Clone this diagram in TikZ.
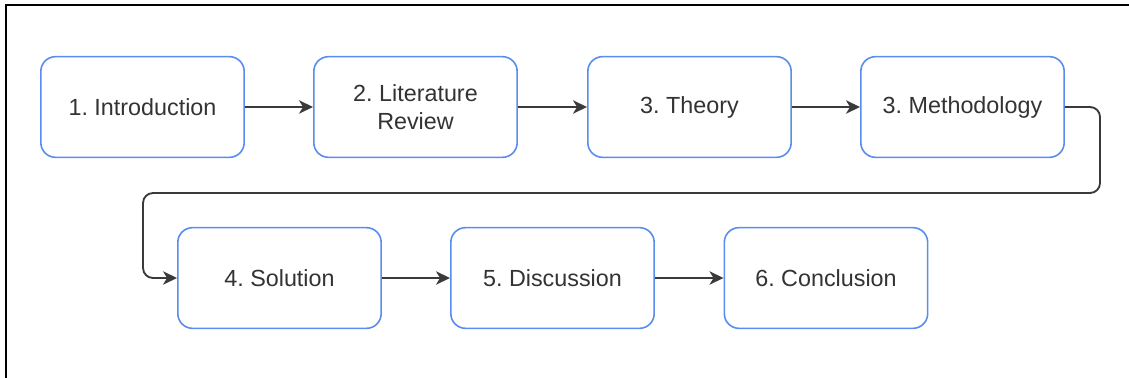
\documentclass[tikz,border=0pt]{standalone}
\usepackage{fontspec}
\setmainfont{Liberation Sans}
\usetikzlibrary{arrows.meta}
\definecolor{boxblue}{HTML}{5A8DEE}
\definecolor{inkgray}{HTML}{333333}
\definecolor{linkgray}{HTML}{3A3A3A}
\frenchspacing
\begin{document}
\begin{tikzpicture}[x=0.75pt,y=-0.75pt,
  stage/.style={draw=boxblue, line width=1.2pt, fill=white, rounded corners=11pt,
    minimum width=152.5pt, minimum height=75.5pt, inner sep=0pt,
    text=inkgray, align=center, font=\fontsize{17.5pt}{20.5pt}\selectfont},
  link/.style={draw=linkgray, line width=1.4pt,
    -{Stealth[length=10.5pt,width=10pt,inset=3pt]}}]
  \useasboundingbox (0,0) rectangle (1129,378);
  % outer frame (left and top edges)
  \draw[black, line width=1.5pt] (6,378) -- (6,5) -- (1129,5);

  % first row
  \node[stage] (intro) at (142.5,107) {1. Introduction};
  \node[stage] (lit)   at (415.5,107) {2. Literature\\Review};
  \node[stage] (theo)  at (689.5,107) {3. Theory};
  \node[stage] (meth)  at (962.5,107) {3. Methodology};
  % second row
  \node[stage] (sol)   at (279.5,278) {4. Solution};
  \node[stage] (disc)  at (552.5,278) {5. Discussion};
  \node[stage] (conc)  at (826,278)   {6. Conclusion};

  % straight links
  \draw[link] (intro) -- (lit);
  \draw[link] (lit) -- (theo);
  \draw[link] (theo) -- (meth);
  \draw[link] (sol) -- (disc);
  \draw[link] (disc) -- (conc);

  % wrap-around link from the first row to the second
  \coordinate (turnR) at (1100,193);
  \coordinate (turnL) at (143,193);
  \draw[link, rounded corners=7.5pt] (meth.east) -| (turnR) -- (turnL) |- (sol.west);
\end{tikzpicture}
\end{document}
